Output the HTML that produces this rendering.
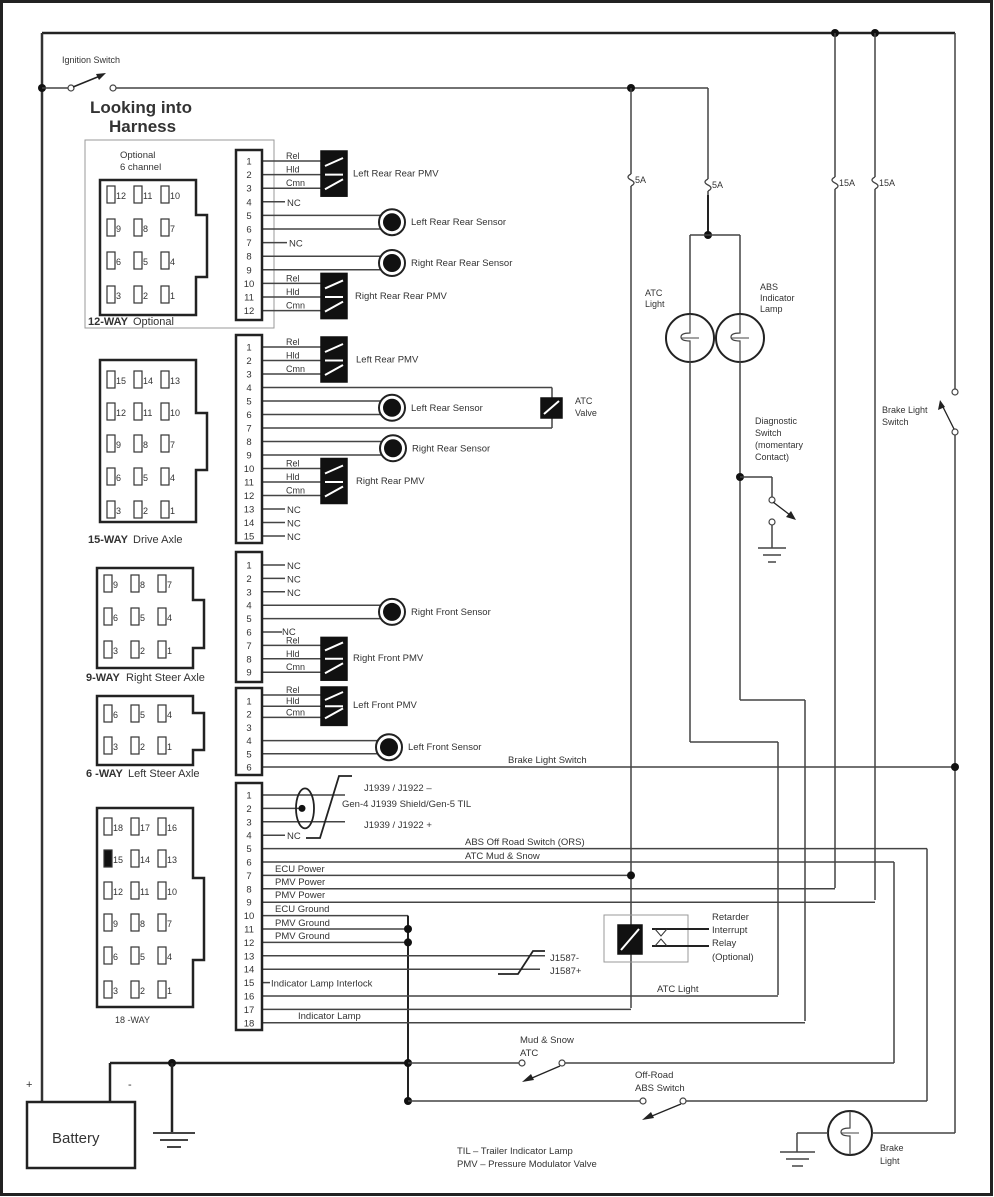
<!DOCTYPE html>
<html><head><meta charset="utf-8"><style>
html,body{margin:0;padding:0;background:#fff}
svg{display:block}
text{font-family:"Liberation Sans",sans-serif;fill:#333}
</style></head><body>
<svg id="s" width="994" height="1197" viewBox="0 0 994 1197" xmlns="http://www.w3.org/2000/svg">
<rect x="1.5" y="1.5" width="990" height="1193" fill="#fff" stroke="#222" stroke-width="3"/>
</svg>
<script>
var s=document.getElementById('s'),NS='http://www.w3.org/2000/svg';
function el(n,a,t){var e=document.createElementNS(NS,n);for(var k in a)e.setAttribute(k,a[k]);if(t!=null)e.textContent=t;s.appendChild(e);return e;}
function L(x1,y1,x2,y2,w,c){el('line',{x1:x1,y1:y1,x2:x2,y2:y2,stroke:c||'#444','stroke-width':w||1.5});}
function P(d,w,c,f){el('path',{d:d,stroke:c||'#444','stroke-width':w||1.5,fill:f||'none'});}
function T(x,y,t,sz,b,anc){var a={x:x,y:y,'font-size':sz||9.5};if(b)a['font-weight']='bold';if(anc)a['text-anchor']=anc;el('text',a,t);}
function D(x,y,r){el('circle',{cx:x,cy:y,r:r||4,fill:'#111'});}
function O(x,y,r){el('circle',{cx:x,cy:y,r:r||3,fill:'#fff',stroke:'#444','stroke-width':1.2});}
function R(x,y,w,h,sw,c,f,da){var a={x:x,y:y,width:w,height:h,stroke:c||'#333','stroke-width':sw||1.5,fill:f||'none'};if(da)a['stroke-dasharray']=da;el('rect',a);}

// main top wires
L(42,33,955,33,2.5,'#222');L(42,33,42,1103,2.5,'#333');
L(955,33,955,392,1.5);L(955,432,955,1133,1.5);
D(835,33);D(875,33);
// ignition
D(42,88);L(42,88,71,88,1.5);O(71,88);P('M73,87 L100,76',1.5,'#222');el('path',{d:'M106,73 L96,74 L99,80 Z',fill:'#222'});O(113,88);
L(116,88,708,88,1.5);D(631,88);
T(62,63,'Ignition Switch',9);
T(90,113,'Looking into',17,true);T(109,132,'Harness',17,true);
// fuses
function fuse(x,y,lbl){L(x,y-10,x,y-6);P('M'+x+','+(y-6)+' q-6,3 0,6 q6,3 0,6',1.3);L(x,y+6,x,y+10);T(x+4,y+3,lbl,9);}
L(631,88,631,170);fuse(631,180,'5A');L(631,190,631,1008);
L(708,88,708,175);fuse(708,185,'5A');L(708,195,708,235,2,'#222');D(708,235);
L(690,235,740,235);L(690,235,690,314);L(740,235,740,314);
L(835,33,835,173);fuse(835,183,'15A');L(835,193,835,888);
L(875,33,875,173);fuse(875,183,'15A');L(875,193,875,900);
// lamps
function lamp(x,y,r){el('circle',{cx:x,cy:y,r:r,fill:'#fff',stroke:'#222','stroke-width':2});P('M'+x+','+(y-r)+' v'+(r-5)+' q-9,0 -9,4 q0,4 9,4 v'+(r-3),1.2);P('M'+(x-9)+','+y+' h18',1);}
lamp(690,338,24);lamp(740,338,24);
T(645,296,'ATC',9);T(645,307,'Light',9);
T(760,290,'ABS',9);T(760,301,'Indicator',9);T(760,312,'Lamp',9);
L(690,362,690,742);L(690,742,778,742);L(778,742,778,995);
L(740,362,740,700);L(740,700,805,700);L(805,700,805,1021);
D(740,477);L(740,477,772,477);L(772,477,772,497);O(772,500);P('M773,502 L790,515',1.3,'#222');el('path',{d:'M796,520 L786,517 L791,511 Z',fill:'#222'});
O(772,522);L(772,525,772,548);L(758,548,786,548);L(763,555,781,555);L(768,562,776,562);
T(755,424,'Diagnostic',9);T(755,436,'Switch',9);T(755,448,'(momentary',9);T(755,460,'Contact)',9);
// brake light switch
O(955,392);O(955,432);P('M954,429 L942,405',1.3,'#222');el('path',{d:'M940,400 L938,410 L945,407 Z',fill:'#222'});
T(882,413,'Brake Light',9);T(882,425,'Switch',9);
// brake light
lamp(850,1133,22);L(872,1133,955,1133);L(828,1133,797,1133);L(797,1133,797,1152);L(780,1152,815,1152);L(786,1159,809,1159);L(792,1166,803,1166);
T(880,1151,'Brake',9);T(880,1164,'Light',9);

// connector pin blocks
function block(y0,y1,first,last){R(236,y0,26,y1-y0,2.5,'#222','#fff');}
function py(p0,step,i){return p0+step*(i-1);}
var blocks=[[150,320,161,13.6,12],[335,543,347,13.5,15],[552,682,565,13.4,9],[688,775,701,13.2,6],[783,1030,795,13.4,18]];
// wires first
function PMV(ys,y0,lbl,lx){ ['Rel','Hld','Cmn'].forEach(function(t,i){L(262,ys[i],322,ys[i]);T(286,ys[i]-2,t,9);});
 R(321,y0,26,ys[2]-y0+8,0,'#111','#111');
 L(325,ys[0]+5,343,ys[0]-3,2,'#fff');L(325,ys[1],343,ys[1],2,'#fff');L(325,ys[2]+1,343,ys[2]-9,2,'#fff');
 T(lx||353,ys[1]+2,lbl,9.5);}
function sensor(ya,yb,lbl,x){x=x||392;L(262,ya,x,ya);L(262,yb,x,yb);el('circle',{cx:x,cy:(ya+yb)/2,r:13,fill:'#fff',stroke:'#222','stroke-width':2});D(x,(ya+yb)/2,9);T(x+19,(ya+yb)/2+3,lbl,9.5);}
function NC(y,x){L(262,y,x||285,y);T((x||285)+2,y+4,'NC',9.5);}
// 12-way
var a=blocks[0],Y=function(i){return py(a[2],a[3],i);};
R(85,140,189,188,1,'#999');
PMV([Y(1),Y(2),Y(3)],Y(1)-10,'Left Rear Rear PMV');NC(Y(4));sensor(Y(5),Y(6),'Left Rear Rear Sensor');NC(Y(7),287);sensor(Y(8),Y(9),'Right Rear Rear Sensor');
PMV([Y(10),Y(11),Y(12)],Y(10)-10,'Right Rear Rear PMV',355);
// 15-way
a=blocks[1];
PMV([Y(1),Y(2),Y(3)],Y(1)-10,'Left Rear PMV',356);
L(262,Y(4),552,Y(4));L(262,Y(7),552,Y(7));L(552,Y(4),552,Y(7));R(541,398,21,20,0,'#111','#111');L(544,414,559,401,2,'#fff');
T(575,404,'ATC',9);T(575,416,'Valve',9);
sensor(Y(5),Y(6),'Left Rear Sensor');sensor(Y(8),Y(9),'Right Rear Sensor',393);
PMV([Y(10),Y(11),Y(12)],Y(10)-10,'Right Rear PMV',356);NC(Y(13));NC(Y(14));NC(Y(15));
// 9-way
a=blocks[2];NC(Y(1));NC(Y(2));NC(Y(3));sensor(Y(4),Y(5),'Right Front Sensor');
L(262,Y(6),282,Y(6));T(282,Y(6)+3,'NC',9.5);
PMV([Y(7),Y(8),Y(9)],Y(7)-8,'Right Front PMV');
// 6-way
a=blocks[3];PMV([Y(1)-6,Y(2)-8,Y(3)-10],Y(1)-14,'Left Front PMV');sensor(Y(4),Y(5),'Left Front Sensor',389);
L(262,Y(6),955,Y(6));D(955,Y(6));T(508,Y(6)-4,'Brake Light Switch',9.5);
// 18-way
a=blocks[4];
L(262,Y(1),345,Y(1));L(262,Y(2),302,Y(2));L(262,Y(3),345,Y(3));D(302,Y(2),3.5);
el('ellipse',{cx:305,cy:Y(2),rx:9,ry:20,fill:'none',stroke:'#222','stroke-width':1.8});
P('M306,838 L320,838 L339,776 L352,776',1.8,'#222');
T(364,791,'J1939 / J1922 –',9.5);T(342,807,'Gen-4 J1939 Shield/Gen-5 TIL',9.5);T(364,828,'J1939 / J1922 +',9.5);
NC(Y(4));
L(262,Y(5),927,Y(5));L(927,Y(5),927,1101);T(465,845,'ABS Off Road Switch (ORS)',9.5);
L(262,Y(6),894,Y(6));L(894,Y(6),894,1063);T(465,859,'ATC Mud & Snow',9.5);
L(262,Y(7),631,Y(7));D(631,Y(7));T(275,872,'ECU Power',9.5);
L(262,Y(8),835,Y(8));T(275,885,'PMV Power',9.5);
L(262,Y(9),875,Y(9));T(275,898,'PMV Power',9.5);
L(262,Y(10),408,Y(10));L(262,Y(11),408,Y(11));L(262,Y(12),408,Y(12));
T(275,912,'ECU Ground',9.5);T(275,926,'PMV Ground',9.5);T(275,939,'PMV Ground',9.5);
L(408,Y(10),408,1101,2,'#222');D(408,Y(11));D(408,Y(12));
L(262,Y(13),545,Y(13));L(262,Y(14),540,Y(14));P('M498,974 L518,974 L533,951 L545,951',1.8,'#222');
T(550,961,'J1587-',9.5);T(550,974,'J1587+',9.5);
L(262,Y(15),270,Y(15));T(271,Y(15)+4,'Indicator Lamp Interlock',9.5);
L(262,Y(16),778,Y(16));T(657,992,'ATC Light',9.5);
L(262,Y(17),631,Y(17));
L(262,Y(18),805,Y(18));T(298,1019,'Indicator Lamp',9.5);
// relay
R(604,915,84,47,1,'#999');R(618,925,24,29,0,'#111','#111');L(621,950,639,929,2,'#fff');
L(652,929,709,929,2,'#222');L(652,946,709,946,2,'#222');
el('path',{d:'M655,929 L661,936 L667,929',fill:'none',stroke:'#333','stroke-width':1});el('path',{d:'M655,946 L661,939 L667,946',fill:'none',stroke:'#333','stroke-width':1});
T(712,920,'Retarder',9.5);T(712,933,'Interrupt',9.5);T(712,946,'Relay',9.5);T(712,960,'(Optional)',9.5);
// blocks drawn on top
blocks.forEach(function(b){R(236,b[0],26,b[1]-b[0],2.5,'#222','#fff');for(var i=1;i<=b[4];i++)T(249,py(b[2],b[3],i)+3.5,String(i),9.5,false,'middle');});
// connector faces
function face(x0,y0,x1,y1,ny0,ny1,rows,nums,fill15){P('M'+x0+','+y0+' H'+x1+' V'+ny0+' H'+(x1+11)+' V'+ny1+' H'+x1+' V'+y1+' H'+x0+' Z',2.5,'#222');
 rows.forEach(function(ry,ri){nums[ri].forEach(function(n,ci){var px=x0+7+ci*27;R(px,ry-9,8,17,1.2,'#333',(fill15&&n==15)?'#111':'#fff');T(px+9,ry+4,String(n),9);});});}
face(100,180,196,315,215,277,[195,228,261,295],[[12,11,10],[9,8,7],[6,5,4],[3,2,1]]);
T(120,158,'Optional',9.5);T(120,170,'6 channel',9.5);
T(88,325,'12-WAY',11,true);T(133,325,'Optional',11);
face(100,360,196,522,413,470,[380,412,444,477,510],[[15,14,13],[12,11,10],[9,8,7],[6,5,4],[3,2,1]]);
T(88,543,'15-WAY',11,true);T(133,543,'Drive Axle',11);
face(97,568,193,668,600,648,[584,617,650],[[9,8,7],[6,5,4],[3,2,1]]);
T(86,681,'9-WAY',11,true);T(126,681,'Right Steer Axle',11);
face(97,696,193,765,713,750,[714,746],[[6,5,4],[3,2,1]]);
T(86,777,'6 -WAY',11,true);T(128,777,'Left Steer Axle',11);
face(97,808,193,1007,878,960,[827,859,891,923,956,990],[[18,17,16],[15,14,13],[12,11,10],[9,8,7],[6,5,4],[3,2,1]],true);
T(115,1023,'18 -WAY',9);
// bottom ground & switches
L(110,1063,408,1063,2.5,'#222');L(110,1063,110,1102,2.5,'#222');D(172,1063);D(408,1063);D(408,1101);
L(172,1063,172,1133,2.5,'#222');L(153,1133,195,1133,2);L(160,1140,188,1140,2);L(167,1147,181,1147,2);
L(408,1063,520,1063);O(522,1063);O(562,1063);L(565,1063,894,1063);P('M560,1066 L532,1078',1.3,'#222');el('path',{d:'M522,1082 L531,1074 L534,1080 Z',fill:'#222'});
T(520,1043,'Mud & Snow',9.5);T(520,1056,'ATC',9.5);
L(408,1101,640,1101);O(643,1101);O(683,1101);L(686,1101,927,1101);P('M681,1104 L652,1116',1.3,'#222');el('path',{d:'M642,1120 L651,1112 L654,1118 Z',fill:'#222'});
T(635,1078,'Off-Road',9.5);T(635,1091,'ABS Switch',9.5);
// battery
R(27,1102,108,66,2.5,'#222','#fff');T(52,1143,'Battery',15);
T(26,1088,'+',11);T(128,1088,'-',11);
T(457,1154,'TIL – Trailer Indicator Lamp',9.5);T(457,1167,'PMV – Pressure Modulator Valve',9.5);
</script>
</body></html>
